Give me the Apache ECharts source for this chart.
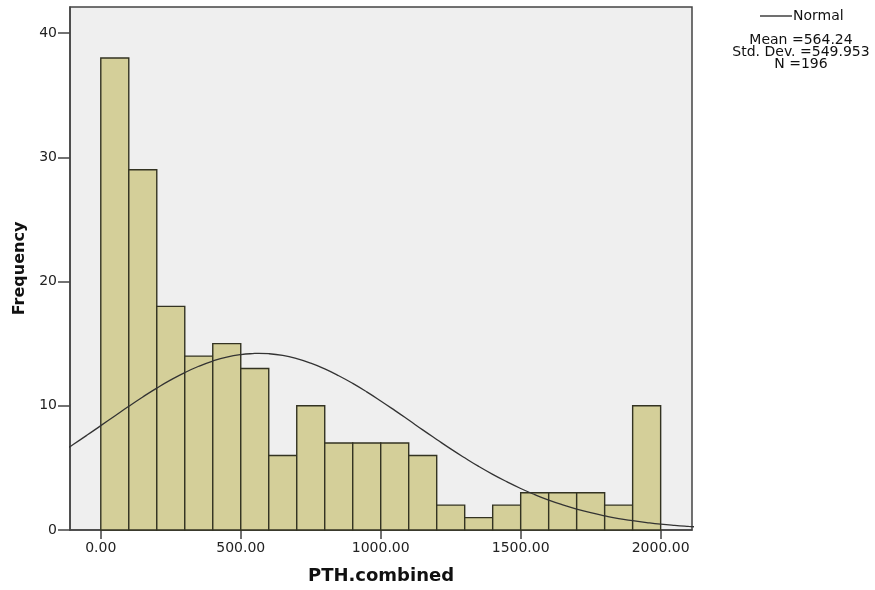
<!DOCTYPE html>
<html>
<head>
<meta charset="utf-8">
<script src="https://cdn.jsdelivr.net/npm/echarts@6/dist/echarts.min.js"></script>
<style>
html,body{margin:0;padding:0;background:#fff;}
#chart{width:875px;height:590px;}
</style>
</head>
<body>
<div id="chart"></div>
<script>
// Histogram bins (PTH.combined), each bin 100 wide
const binStarts = [0,100,200,300,400,500,600,700,800,900,1000,1100,1200,1300,1400,1500,1600,1700,1800,1900];
const binEnds   = [100,200,300,400,500,600,700,800,900,1000,1100,1200,1300,1400,1500,1600,1700,1800,1900,2000];
const counts    = [38,29,18,14,15,13,6,10,7,7,7,6,2,1,2,3,3,3,2,10];

// Fitted normal curve
const normalX = [-150,-100,-50,0,50,100,150,200,250,300,350,400,450,500,550,564,600,650,700,750,800,850,900,950,1000,1050,1100,1150,1200,1250,1300,1350,1400,1450,1500,1550,1600,1650,1700,1750,1800,1850,1900,1950,2000,2050,2100,2150];
const normalY = [6.12,6.86,7.62,8.40,9.18,9.96,10.71,11.42,12.08,12.67,13.18,13.60,13.92,14.12,14.21,14.22,14.19,14.05,13.79,13.43,12.97,12.42,11.80,11.12,10.39,9.63,8.85,8.06,7.29,6.53,5.81,5.12,4.48,3.89,3.34,2.85,2.41,2.03,1.69,1.39,1.14,0.92,0.75,0.60,0.47,0.37,0.29,0.22];

// Tick labels
const xTickValues = [0,500,1000,1500,2000];
const yTickValues = [0,10,20,30,40];

const statsLines = ['Mean =564.24','Std. Dev. =549.953','N =196'];

const FONT = 'DejaVu Sans';
const chart = echarts.init(document.getElementById('chart'), null, {renderer:'canvas'});

const barData = binStarts.map((s,i)=>[s, binEnds[i], counts[i]]);
const curveData = normalX.map((x,i)=>[x, normalY[i]]);

chart.setOption({
  animation:false,
  backgroundColor:'#ffffff',
  grid:{left:70, right:183, top:7, bottom:58.5, show:true, backgroundColor:'#efefef', borderColor:'#444', borderWidth:1.5},
  legend:{
    data:[{name:'Normal', icon:'rect'}], left:760, top:9, padding:0, itemWidth:32, itemHeight:1.3,
    itemStyle:{color:'#222'},
    textStyle:{fontFamily:FONT, fontSize:14, color:'#111', padding:[0,0,0,-4]}
  },
  graphic:[{
    type:'text', x:801, y:34,
    style:{text:statsLines.join('\n'), align:'center', verticalAlign:'top', font:'14px "DejaVu Sans"', lineHeight:12, fill:'#111'}
  }],
  xAxis:{
    type:'value', min:-110, max:2112,
    name:'PTH.combined', nameLocation:'middle', nameGap:37,
    nameTextStyle:{fontFamily:FONT, fontSize:18, fontWeight:'bold', color:'#111'},
    axisLine:{show:true, onZero:false, lineStyle:{color:'#444', width:1.5}},
    axisTick:{show:true, length:9, customValues:xTickValues, lineStyle:{color:'#444', width:1.5}},
    axisLabel:{customValues:xTickValues, margin:11, fontFamily:FONT, fontSize:14, color:'#222', formatter:v=>v.toFixed(2)},
    splitLine:{show:false}
  },
  yAxis:{
    type:'value', min:0, max:42.1,
    name:'Frequency', nameLocation:'middle', nameRotate:90, nameGap:42,
    nameTextStyle:{fontFamily:FONT, fontSize:16, fontWeight:'bold', color:'#111'},
    axisLine:{show:true, onZero:false, lineStyle:{color:'#444', width:1.5}},
    axisTick:{show:true, length:12, customValues:yTickValues, lineStyle:{color:'#444', width:1.5}},
    axisLabel:{customValues:yTickValues, margin:13, fontFamily:FONT, fontSize:14, color:'#222'},
    splitLine:{show:false}
  },
  series:[
    {
      type:'custom', name:'bins', data:barData, encode:{x:[0,1], y:2},
      renderItem:function(params, api){
        const p0 = api.coord([api.value(0), 0]);
        const p1 = api.coord([api.value(1), api.value(2)]);
        return {type:'rect', shape:{x:p0[0], y:p1[1], width:p1[0]-p0[0], height:p0[1]-p1[1]},
          style:{fill:'#d4cf99', stroke:'#333322', lineWidth:1.4}};
      },
      z:2
    },
    {
      type:'line', name:'Normal', data:curveData, smooth:true, symbol:'none', clip:true,
      lineStyle:{color:'#333', width:1.3}, itemStyle:{color:'#333'}, z:3
    }
  ]
});
</script>
</body>
</html>
